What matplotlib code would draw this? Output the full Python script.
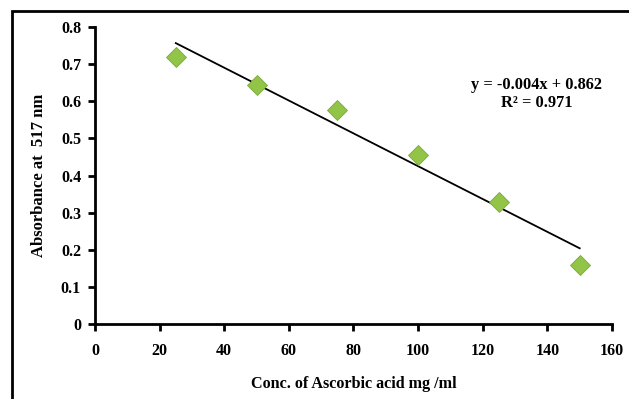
import numpy as np
import matplotlib.pyplot as plt
from matplotlib.patches import Rectangle

# data
conc = [25, 50, 75, 100, 125, 150]          # mg/ml
absorbance = [0.72, 0.644, 0.576, 0.455, 0.329, 0.159]

x_ticks = [0, 20, 40, 60, 80, 100, 120, 140, 160]
y_ticks = [0, 0.1, 0.2, 0.3, 0.4, 0.5, 0.6, 0.7, 0.8]
y_tick_labels = ['0', '0.1', '0.2', '0.3', '0.4', '0.5', '0.6', '0.7', '0.8']

plt.rcParams['font.family'] = 'Liberation Serif'
plt.rcParams['font.weight'] = 'bold'

fig = plt.figure(figsize=(6.29, 3.99), dpi=100)
ax = fig.add_axes([0.151, 0.188, 0.822, 0.744])

# outer frame (only left + top edges are visible in the reference)
fig.patches.append(Rectangle((12 / 629, -0.1), 1.2, 1.1 - 11 / 399,
                             transform=fig.transFigure, fill=False,
                             edgecolor='black', linewidth=2))

# linear trendline from the data
slope, intercept = np.polyfit(conc, absorbance, 1)
xs = np.array([conc[0], conc[-1]])
ax.plot(xs, slope * xs + intercept, color='black', linewidth=1.3, zorder=2)

ax.plot(conc, absorbance, linestyle='none', marker='D', markersize=10,
        markerfacecolor='#92c447', markeredgecolor='#7aa83a',
        markeredgewidth=0.6, zorder=3)

ax.text(0.853, 0.805, 'y = -0.004x + 0.862', transform=ax.transAxes,
        ha='center', va='center', fontsize=11.8, fontweight='bold')
ax.text(0.855, 0.745, 'R² = 0.971', transform=ax.transAxes,
        ha='center', va='center', fontsize=11.8, fontweight='bold')

ax.set_xlim(0, 160)
ax.set_ylim(0, 0.8)
ax.set_xticks(x_ticks)
ax.set_yticks(y_ticks)
ax.set_yticklabels(y_tick_labels)
ax.tick_params(direction='out', length=5, width=2, labelsize=11.5)
ax.tick_params(axis='x', pad=9)
ax.tick_params(axis='y', pad=5)
for lbl in ax.get_xticklabels() + ax.get_yticklabels():
    lbl.set_fontweight('bold')

for side in ['top', 'right']:
    ax.spines[side].set_visible(False)
for side in ['left', 'bottom']:
    ax.spines[side].set_linewidth(2)

ax.set_xlabel('Conc. of Ascorbic acid mg /ml', fontsize=11.6, fontweight='bold', labelpad=12)
ax.set_ylabel('Absorbance at  517 nm', fontsize=12, fontweight='bold', labelpad=10)

fig.savefig('out.png', dpi=100)
